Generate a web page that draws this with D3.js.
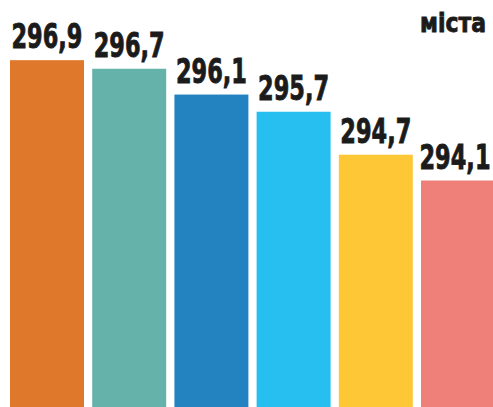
<!DOCTYPE html>
<html>
<head>
<meta charset="utf-8">
<script src="https://cdn.jsdelivr.net/npm/d3@7"></script>
<style>
  html, body { margin: 0; padding: 0; background: #fff; }
  svg { display: block; }
  .value_label { font-family: "DejaVu Sans", sans-serif; font-weight: bold; fill: #1b1b1b; stroke: #1b1b1b; stroke-width: 0.9; }
</style>
</head>
<body>
<svg id="chart"></svg>
<script>
var width = 493, height = 407;

var categories = ["c1", "c2", "c3", "c4", "c5", "c6"];
var values = [296.9, 296.7, 296.1, 295.7, 294.7, 294.1];
var labels = ["296,9", "296,7", "296,1", "295,7", "294,7", "294,1"];
var colors = ["#e0782b", "#64b2a9", "#2383c1", "#27bfef", "#fdc736", "#ee7f79"];

var svg = d3.select("#chart")
  .attr("width", width)
  .attr("height", height);

var x = d3.scaleBand()
  .domain(categories)
  .range([10, 495])
  .paddingInner(0.1)
  .paddingOuter(0);

// truncated axis, as in the original infographic
var y = d3.scaleLinear()
  .domain([288.83, 298.3])
  .range([height, 0]);

var bar = svg.selectAll(".bar")
  .data(categories)
  .enter()
  .append("g")
  .attr("class", "bar");

bar.append("rect")
  .attr("x", function(d){ return x(d); })
  .attr("width", x.bandwidth())
  .attr("y", function(d, i){ return y(values[i]); })
  .attr("height", function(d, i){ return height - y(values[i]); })
  .attr("fill", function(d, i){ return colors[i]; });

bar.append("text")
  .attr("class", "value_label")
  .attr("x", function(d, i){ return x(d) + x.bandwidth() / 2 - (i == 5 ? 3 : 0); })
  .attr("y", function(d, i){ return y(values[i]) - 12; })
  .attr("text-anchor", "middle")
  .attr("font-size", 33)
  .attr("textLength", 71)
  .attr("lengthAdjust", "spacingAndGlyphs")
  .text(function(d, i){ return labels[i]; });

svg.append("text")
  .attr("class", "value_label")
  .attr("x", 420)
  .attr("y", 32)
  .attr("font-size", 26)
  .attr("textLength", 66)
  .attr("lengthAdjust", "spacingAndGlyphs")
  .text("міста");
</script>
</body>
</html>
